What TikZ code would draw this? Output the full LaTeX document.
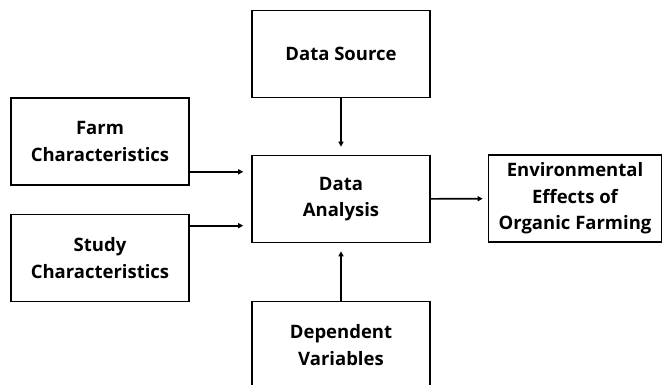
\documentclass[tikz,border=0pt]{standalone}
\usepackage{fontspec}
\setmainfont{Open Sans}
\usetikzlibrary{arrows.meta, positioning}

\begin{document}
\begin{tikzpicture}[
  x=1pt, y=-1pt,
  block/.style={draw, line width=1.6pt, minimum width=178pt, minimum height=87pt,
                align=center, text centered, inner sep=0pt,
                font=\fontsize{18.5}{26.5}\selectfont\bfseries},
  flow/.style={-{Triangle[length=5pt,width=5pt]}, line width=1.6pt, shorten >=8pt}
]
\useasboundingbox (0,0) rectangle (663,384);

\node[block] (src)   at (341,54)    {Data Source};
\node[block] (farm)  at (100,141.5) {Farm\\Characteristics};
\node[block] (study) at (100,258)   {Study\\Characteristics};
\node[block] (ana)   at (341,199)   {Data\\Analysis};
\node[block, minimum width=173pt] (env) at (575,198.5) {Environmental\\Effects of\\Organic Farming};
\node[block] (dep)   at (341,345)   {Dependent\\Variables};

\coordinate (f1) at ([yshift=14pt]farm.south east);
\coordinate (s1) at ([yshift=-12pt]study.north east);

\draw[flow] (src) -- (ana);
\draw[flow] (f1) -- (f1 -| ana.west);
\draw[flow] (s1) -- (s1 -| ana.west);
\draw[flow] (dep) -- (ana);
\draw[flow, shorten >=5pt] (ana) -- (env);

\end{tikzpicture}
\end{document}
